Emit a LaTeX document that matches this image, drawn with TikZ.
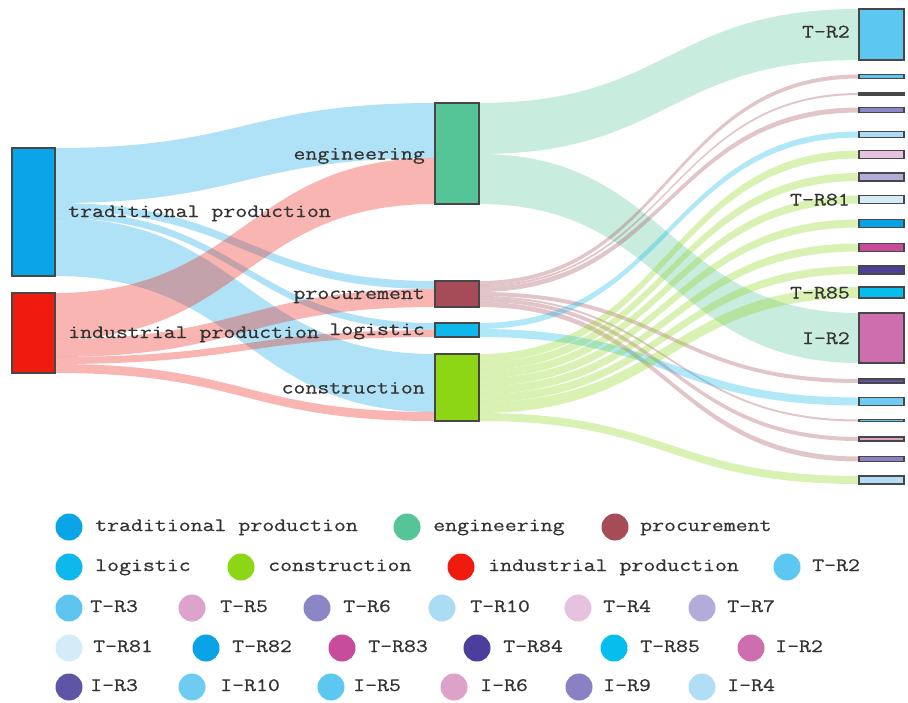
\documentclass[tikz,border=0pt]{standalone}
\usepackage{fontspec}
\newfontfamily\lblfont[FakeStretch=1.22, FakeBold=0.6]{Latin Modern Mono}
\usetikzlibrary{backgrounds}

% node colours
\definecolor{cTrad}{HTML}{0AA5E8}
\definecolor{cInd}{HTML}{EE1B0E}
\definecolor{cEng}{HTML}{55C497}
\definecolor{cProc}{HTML}{A64C59}
\definecolor{cLog}{HTML}{0EB8EC}
\definecolor{cCons}{HTML}{8CD616}
\definecolor{cTRtwo}{HTML}{5CC8F2}
\definecolor{cTRthree}{HTML}{5EC6EE}
\definecolor{cTRfive}{HTML}{DDA3CB}
\definecolor{cTRsix}{HTML}{8B86C6}
\definecolor{cTRten}{HTML}{AADCF5}
\definecolor{cTRfour}{HTML}{E7C2DE}
\definecolor{cTRseven}{HTML}{B3ACDB}
\definecolor{cTReightone}{HTML}{D3ECF8}
\definecolor{cTReighttwo}{HTML}{0AA2E6}
\definecolor{cTReightthree}{HTML}{C84C9C}
\definecolor{cTReightfour}{HTML}{4B3F9B}
\definecolor{cTReightfive}{HTML}{06BEEE}
\definecolor{cIRtwo}{HTML}{CD6FAE}
\definecolor{cIRthree}{HTML}{5F55A6}
\definecolor{cIRten}{HTML}{6ECBF1}
\definecolor{cIRfive}{HTML}{5CC7EF}
\definecolor{cIRsix}{HTML}{DDA2CA}
\definecolor{cIRnine}{HTML}{8981C3}
\definecolor{cIRfour}{HTML}{B0DEF7}
\definecolor{barEdge}{HTML}{474747}
\definecolor{txt}{HTML}{333333}

\tikzset{
  bar/.style={rectangle, draw=barEdge, line width=1.1pt, inner sep=0pt, outer sep=0pt, anchor=north west},
  lbl/.style={font=\lblfont\fontsize{19}{20}\selectfont, text=txt, inner sep=0pt, text height=11pt, text depth=3pt},
  dot/.style={circle, inner sep=0pt, minimum size=27pt},
  band/.style={fill opacity=0.32},
}

% flow ribbon: colour, source, source offset, target, target offset, width, half span
\newcommand\flowband[7]{%
  \fill[band, #1]
    ([yshift={-(#3)*1pt}]#2.north east) .. controls +(#7,0) and +(-#7,0) .. ([yshift={-(#5)*1pt}]#4.north west)
    -- ([yshift={-(#5+#6)*1pt}]#4.north west) .. controls +(-#7,0) and +(#7,0) .. ([yshift={-(#3+#6)*1pt}]#2.north east)
    -- cycle;}

% right-hand target bar: name, colour, top, height
\newcommand\rbar[4]{\node[bar, fill=#2, minimum width=45pt, minimum height=#4pt] (#1) at (859,#3) {};}

% legend entry: name, colour, dot x, text x, y, text
\newcommand\legitem[6]{%
  \node[dot, fill=#2] (#1) at (#3,#5) {};
  \node[lbl, anchor=west] (#1txt) at (#4,#5) {#6};}

\begin{document}
\begin{tikzpicture}[x=1pt, y=-1pt]
\useasboundingbox (0,0) rectangle (908,702);
\begin{pgfonlayer}{background}
  \fill[white] (0,0) rectangle (908,702);
\end{pgfonlayer}

% sources
\node[bar, fill=cTrad, minimum width=43pt, minimum height=128pt] (trad) at (12,148) {};
\node[bar, fill=cInd, minimum width=43pt, minimum height=80pt] (ind) at (12,293) {};

% activities
\node[bar, fill=cEng, minimum width=44pt, minimum height=101pt] (eng) at (435,103) {};
\node[bar, fill=cProc, minimum width=44pt, minimum height=26pt] (proc) at (435,281) {};
\node[bar, fill=cLog, minimum width=44pt, minimum height=14pt] (logi) at (435,323) {};
\node[bar, fill=cCons, minimum width=44pt, minimum height=67pt] (cons) at (435,354) {};

% results
\rbar{tr2}{cTRtwo}{9}{51}
\rbar{tr3}{cTRthree}{74.5}{4}
\rbar{tr5}{cTRfive}{93}{2}
\rbar{tr6}{cTRsix}{107.5}{5}
\rbar{tr10}{cTRten}{131.5}{6}
\rbar{tr4}{cTRfour}{150.5}{8}
\rbar{tr7}{cTRseven}{173}{8}
\rbar{tr81}{cTReightone}{195.5}{8}
\rbar{tr82}{cTReighttwo}{219.5}{8}
\rbar{tr83}{cTReightthree}{243.5}{8}
\rbar{tr84}{cTReightfour}{266}{8}
\rbar{tr85}{cTReightfive}{287}{11}
\rbar{ir2}{cIRtwo}{313}{50}
\rbar{ir3}{cIRthree}{379}{4}
\rbar{ir10}{cIRten}{397.5}{8}
\rbar{ir5}{cIRfive}{419.5}{2}
\rbar{ir6}{cIRsix}{437}{4}
\rbar{ir9}{cIRnine}{456.5}{5}
\rbar{ir4}{cIRfour}{476}{8}

% ribbons
\begin{pgfonlayer}{background}
  \flowband{cTrad}{trad}{0}{eng}{0}{55}{190}
  \flowband{cTrad}{trad}{55}{proc}{0}{8}{190}
  \flowband{cTrad}{trad}{63}{logi}{0}{7}{190}
  \flowband{cTrad}{trad}{70}{cons}{0}{58}{190}
  \flowband{cInd}{ind}{0}{eng}{55}{46}{190}
  \flowband{cInd}{ind}{46}{proc}{8}{18}{190}
  \flowband{cInd}{ind}{64}{logi}{7}{7}{190}
  \flowband{cInd}{ind}{71}{cons}{58}{9}{190}
  \flowband{cEng}{eng}{0}{tr2}{0}{51}{190}
  \flowband{cEng}{eng}{51}{ir2}{0}{50}{190}
  \flowband{cProc}{proc}{0}{tr3}{0}{4}{190}
  \flowband{cProc}{proc}{4}{tr5}{0}{2}{190}
  \flowband{cProc}{proc}{6}{tr6}{0}{5}{190}
  \flowband{cProc}{proc}{11}{ir3}{0}{4}{190}
  \flowband{cProc}{proc}{15}{ir5}{0}{2}{190}
  \flowband{cProc}{proc}{17}{ir6}{0}{4}{190}
  \flowband{cProc}{proc}{21}{ir9}{0}{5}{190}
  \flowband{cLog}{logi}{0}{tr10}{0}{6}{190}
  \flowband{cLog}{logi}{6}{ir10}{0}{8}{190}
  \flowband{cCons}{cons}{0}{tr4}{0}{8}{190}
  \flowband{cCons}{cons}{8}{tr7}{0}{8}{190}
  \flowband{cCons}{cons}{16}{tr81}{0}{8}{190}
  \flowband{cCons}{cons}{24}{tr82}{0}{8}{190}
  \flowband{cCons}{cons}{32}{tr83}{0}{8}{190}
  \flowband{cCons}{cons}{40}{tr84}{0}{8}{190}
  \flowband{cCons}{cons}{48}{tr85}{0}{11}{190}
  \flowband{cCons}{cons}{59}{ir4}{0}{8}{190}
\end{pgfonlayer}

% node labels
\node[lbl, anchor=west] (tradL) at ([xshift=13pt, yshift=-1pt]trad.east) {traditional production};
\node[lbl, anchor=west] (indL) at ([xshift=13pt, yshift=-1pt]ind.east) {industrial production};
\node[lbl, anchor=east] (engL) at ([xshift=-10pt, yshift=-2pt]eng.west) {engineering};
\node[lbl, anchor=east] (procL) at ([xshift=-10pt, yshift=-1pt]proc.west) {procurement};
\node[lbl, anchor=east] (logiL) at ([xshift=-10pt, yshift=-1pt]logi.west) {logistic};
\node[lbl, anchor=east] (consL) at ([xshift=-10pt, yshift=-2pt]cons.west) {construction};
\node[lbl, anchor=east] (tr2L) at ([xshift=-9pt, yshift=1pt]tr2.west) {T-R2};
\node[lbl, anchor=east] (tr81L) at ([xshift=-9pt, yshift=-2pt]tr81.west) {T-R81};
\node[lbl, anchor=east] (tr85L) at ([xshift=-9pt, yshift=-2pt]tr85.west) {T-R85};
\node[lbl, anchor=east] (ir2L) at ([xshift=-9pt, yshift=-2pt]ir2.west) {I-R2};

% legend
\legitem{lgA}{cTrad}{69}{95}{527}{traditional production}
\legitem{lgB}{cEng}{407}{433}{527}{engineering}
\legitem{lgC}{cProc}{615}{640}{527}{procurement}

\legitem{lgD}{cLog}{69}{95}{567}{logistic}
\legitem{lgE}{cCons}{241}{268}{567}{construction}
\legitem{lgF}{cInd}{461}{488}{567}{industrial production}
\legitem{lgG}{cTRtwo}{787}{812}{567}{T-R2}

\legitem{lgH}{cTRthree}{69}{90}{608}{T-R3}
\legitem{lgI}{cTRfive}{192}{220}{608}{T-R5}
\legitem{lgJ}{cTRsix}{317}{343}{608}{T-R6}
\legitem{lgK}{cTRten}{442}{470}{608}{T-R10}
\legitem{lgL}{cTRfour}{578}{603}{608}{T-R4}
\legitem{lgM}{cTRseven}{702}{727}{608}{T-R7}

\legitem{lgN}{cTReightone}{69}{93}{648}{T-R81}
\legitem{lgO}{cTReighttwo}{206}{232}{648}{T-R82}
\legitem{lgP}{cTReightthree}{342}{368}{648}{T-R83}
\legitem{lgQ}{cTReightfour}{477}{503}{648}{T-R84}
\legitem{lgR}{cTReightfive}{614}{640}{648}{T-R85}
\legitem{lgS}{cIRtwo}{751}{775}{648}{I-R2}

\legitem{lgT}{cIRthree}{69}{90}{687}{I-R3}
\legitem{lgU}{cIRten}{192}{220}{687}{I-R10}
\legitem{lgV}{cIRfive}{331}{353}{687}{I-R5}
\legitem{lgW}{cIRsix}{454}{480}{687}{I-R6}
\legitem{lgX}{cIRnine}{579}{603}{687}{I-R9}
\legitem{lgY}{cIRfour}{702}{727}{687}{I-R4}
\end{tikzpicture}
\end{document}
